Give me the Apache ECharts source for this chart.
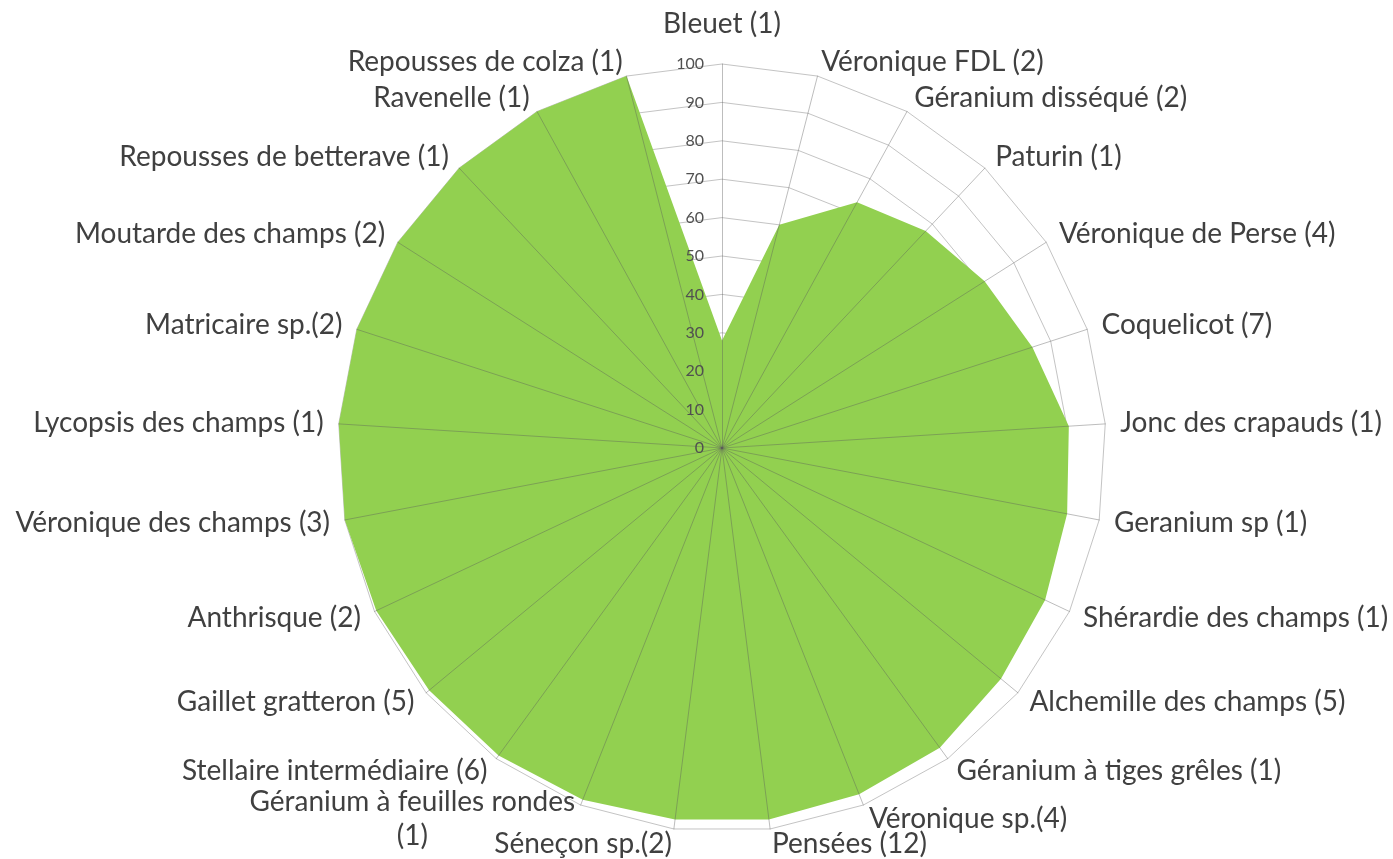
<!DOCTYPE html>
<html>
<head>
<meta charset="utf-8">
<script src="https://cdn.jsdelivr.net/npm/echarts@6/dist/echarts.min.js"></script>
<style>
html,body{margin:0;padding:0;background:#fff;}
#chart{width:1393px;height:859px;}
</style>
</head>
<body>
<div id="chart"></div>
<script>
// Categories in clockwise order starting at the top
const categories = [
  "Bleuet (1)", "Véronique FDL (2)", "Géranium disséqué (2)", "Paturin (1)",
  "Véronique de Perse (4)", "Coquelicot (7)", "Jonc des crapauds (1)", "Geranium sp (1)",
  "Shérardie des champs (1)", "Alchemille des champs (5)", "Géranium à tiges grêles (1)",
  "Véronique sp.(4)", "Pensées (12)", "Séneçon sp.(2)", "Géranium à feuilles rondes (1)",
  "Stellaire intermédiaire (6)", "Gaillet gratteron (5)", "Anthrisque (2)",
  "Véronique des champs (3)", "Lycopsis des champs (1)", "Matricaire sp.(2)",
  "Moutarde des champs (2)", "Repousses de betterave (1)", "Ravenelle (1)",
  "Repousses de colza (1)"
];
const values = [28, 60, 73, 77.5, 81, 85, 90.5, 91.5, 93, 94.3, 96.5, 97, 97.5, 97.5, 98.5,
  99, 99, 99.5, 100, 100, 100, 100, 100, 100, 100];
const axisMin = 0;
const axisMax = 100;
const axisSplit = 10;

// ECharts lays radar indicators counter-clockwise; reverse all but the first to go clockwise
const order = [0];
for (let i = categories.length - 1; i >= 1; i--) order.push(i);
const indicators = order.map(i => ({ name: categories[i], min: axisMin, max: axisMax }));
const orderedValues = order.map(i => values[i]);

const NAME = { color: '#404040', fontFamily: 'Lato', fontSize: 28 };
const chart = echarts.init(document.getElementById('chart'), null, { renderer: 'canvas' });

const common = {
  center: [722, 448],
  radius: 384,
  startAngle: 90,
  shape: 'polygon',
  splitNumber: axisSplit
};

chart.setOption({
  animation: false,
  backgroundColor: '#ffffff',
  radar: [
    Object.assign({}, common, {
      z: 0,
      indicator: indicators,
      axisName: Object.assign({}, NAME, {
        formatter: function (name) {
          if (name.length > 28) {
            const k = name.lastIndexOf(' ');
            return '{a|' + name.slice(0, k) + '}\n{b|' + name.slice(k + 1) + '}';
          }
          if (name === categories[0]) return '{t|' + name + '}';
          return name;
        },
        rich: {
          a: Object.assign({}, NAME, { lineHeight: 34 }),
          b: Object.assign({}, NAME, { lineHeight: 34, align: 'center' }),
          t: Object.assign({}, NAME, { padding: [0, 0, 11, 0] })
        }
      }),
      nameGap: 15,
      axisLine: { show: false },
      axisTick: { show: false },
      axisLabel: { show: false },
      splitArea: { show: false },
      splitLine: { show: true, lineStyle: { color: '#c4c4c4', width: 1 } }
    }),
    Object.assign({}, common, {
      z: 5,
      indicator: indicators.map((ind, idx) => Object.assign({}, ind, idx === 0 ? {
        axisLabel: { show: true }
      } : {})),
      axisName: { show: false },
      axisLine: { show: true, lineStyle: { color: 'rgba(90,90,90,0.4)', width: 1 } },
      axisTick: { show: false },
      axisLabel: {
        show: false,
        color: '#505050',
        fontFamily: 'Lato',
        fontSize: 16,
        margin: 18
      },
      splitArea: { show: false },
      splitLine: { show: false }
    })
  ],
  series: [{
    type: 'radar',
    radarIndex: 0,
    z: 2,
    symbol: 'none',
    lineStyle: { width: 0 },
    areaStyle: { color: '#92d050', opacity: 1 },
    data: [{ value: orderedValues, name: 'Adventices' }]
  }]
});
</script>
</body>
</html>
